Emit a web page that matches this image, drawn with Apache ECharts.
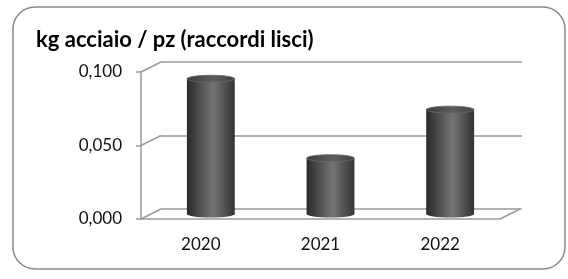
<!DOCTYPE html>
<html>
<head>
<meta charset="utf-8">
<script src="https://cdn.jsdelivr.net/npm/echarts@6/dist/echarts.min.js"></script>
<style>
  html, body { margin: 0; padding: 0; background: #fff; }
  #main { width: 568px; height: 279px; }
</style>
</head>
<body>
<div id="main"></div>
<script>
  var titleText = 'kg acciaio / pz (raccordi lisci)'
  var years = ['2020', '2021', '2022']
  var values = [0.092, 0.038, 0.071]
  var yTicks = [0, 0.05, 0.1]

  var DX = 20
  var DY = -10
  var lineColor = '#9a9a9a'
  var font = 'Lato'

  var fmt = function (v) {
    return v.toFixed(3).replace('.', ',')
  }

  // pareti 3D: diagonali dai tick dell'asse y e dal fondo destro
  var renderWalls = function (params, api) {
    var cs = params.coordSys
    var v = api.value(0)
    var y = api.coord([0, v])[1]
    var children = [{
      type: 'line',
      shape: { x1: cs.x, y1: y, x2: cs.x + DX, y2: y + DY },
      style: { stroke: lineColor, lineWidth: 1.5 }
    }]
    if (v === 0) {
      children.push({
        type: 'line',
        shape: { x1: cs.x + cs.width, y1: y, x2: cs.x + cs.width + DX, y2: y + DY },
        style: { stroke: lineColor, lineWidth: 1.5 }
      })
    }
    return { type: 'group', children: children }
  }

  // cilindri a metà profondità
  var renderCylinder = function (params, api) {
    var top = api.coord([api.value(0), api.value(1)])
    var base = api.coord([api.value(0), 0])
    var w = api.size([1, 0])[0] * 0.4
    var cx = top[0] + DX / 2
    var ty = top[1] + DY / 2
    var by = base[1] + DY / 2
    var rx = w / 2
    var ry = 3.5
    var body = new echarts.graphic.LinearGradient(0, 0, 1, 0, [
      { offset: 0, color: '#2a2a2a' },
      { offset: 0.55, color: '#747474' },
      { offset: 1, color: '#333333' }
    ])
    return {
      type: 'group',
      children: [{
        type: 'ellipse',
        shape: { cx: cx, cy: by, rx: rx, ry: ry },
        style: { fill: body }
      }, {
        type: 'rect',
        shape: { x: cx - rx, y: ty, width: w, height: by - ty },
        style: { fill: body }
      }, {
        type: 'ellipse',
        shape: { cx: cx, cy: ty, rx: rx, ry: ry },
        style: {
          fill: new echarts.graphic.LinearGradient(0, 0, 1, 0, [
            { offset: 0, color: '#3a3a3a' },
            { offset: 0.55, color: '#5e5e5e' },
            { offset: 1, color: '#404040' }
          ]),
          stroke: '#6a6a6a',
          lineWidth: 0.8
        }
      }]
    }
  }

  var chart = echarts.init(document.getElementById('main'))

  chart.setOption({
    animation: false,
    title: {
      text: titleText,
      left: 31,
      top: 24,
      textStyle: {
        fontFamily: font,
        fontWeight: 'bold',
        fontSize: 22,
        color: '#000'
      }
    },
    graphic: [{
      type: 'rect',
      shape: { x: 13, y: 7, width: 552, height: 262, r: 22 },
      style: { fill: 'none', stroke: '#8a8a8a', lineWidth: 1.5 },
      z: -1
    }],
    grid: [
      { left: 141, right: 68, top: 72, bottom: 60 },
      { left: 161, right: 46, top: 62, bottom: 70 }
    ],
    xAxis: [{
      gridIndex: 0,
      type: 'category',
      data: years,
      axisLine: { lineStyle: { color: lineColor, width: 1.5 } },
      axisTick: { length: 5, lineStyle: { color: lineColor, width: 1.5 } },
      axisLabel: { color: '#111', fontFamily: font, fontSize: 17, margin: 17 }
    }, {
      gridIndex: 1,
      type: 'category',
      data: years,
      show: false
    }],
    yAxis: [{
      gridIndex: 0,
      type: 'value',
      min: 0,
      max: 0.1,
      interval: 0.05,
      splitLine: { show: false },
      axisLine: { show: true, lineStyle: { color: lineColor, width: 1.5 } },
      axisTick: { show: true, length: 5, lineStyle: { color: lineColor, width: 1.5 } },
      axisLabel: {
        color: '#111',
        fontFamily: font,
        fontSize: 17,
        margin: 19,
        formatter: fmt
      }
    }, {
      gridIndex: 1,
      type: 'value',
      min: 0,
      max: 0.1,
      interval: 0.05,
      axisLabel: { show: false },
      axisLine: { show: false },
      axisTick: { show: false },
      splitLine: { show: true, lineStyle: { color: lineColor, width: 1.5 } }
    }],
    series: [{
      type: 'custom',
      xAxisIndex: 0,
      yAxisIndex: 0,
      renderItem: renderWalls,
      data: yTicks.map(function (v) { return [v] }),
      silent: true,
      z: 1
    }, {
      type: 'custom',
      xAxisIndex: 0,
      yAxisIndex: 0,
      renderItem: renderCylinder,
      encode: { x: 0, y: 1 },
      data: years.map(function (y, i) { return [i, values[i]] }),
      z: 3
    }]
  })
</script>
</body>
</html>
